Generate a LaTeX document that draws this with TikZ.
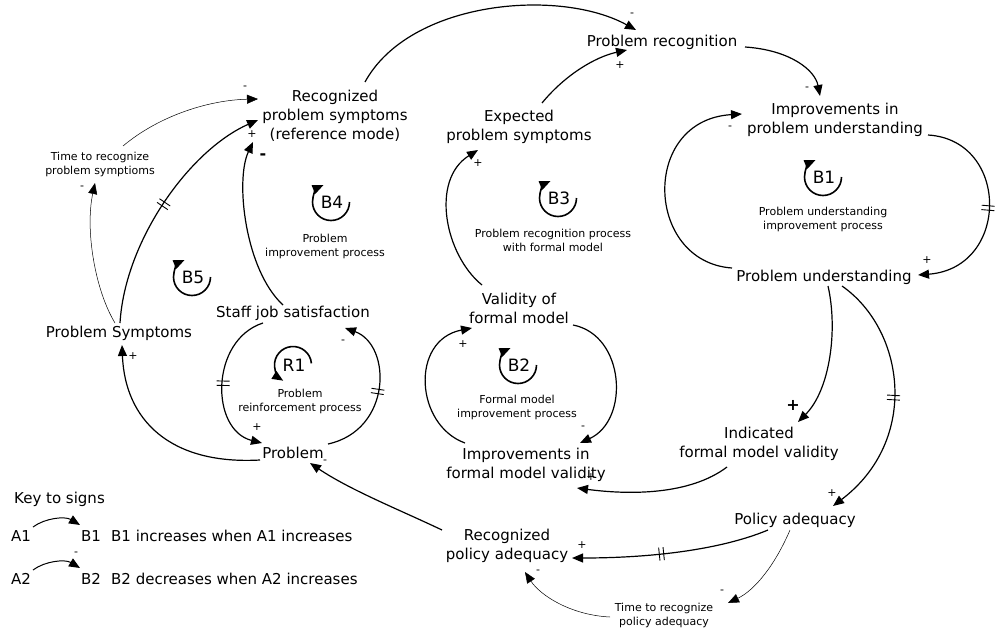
\documentclass[tikz,border=0pt]{standalone}
\usepackage{fontspec}
\setmainfont{DejaVu Sans}
\usetikzlibrary{arrows.meta,decorations.markings}
\begin{document}
\begin{tikzpicture}[x=1pt,y=-1pt,
  txt/.style={font=\fontsize{15}{19}\selectfont, align=center, inner sep=1pt},
  lbl/.style={font=\fontsize{17}{19}\selectfont, inner sep=0pt},
  sm/.style={font=\fontsize{11}{14}\selectfont, align=center, inner sep=1pt},
  sgn/.style={font=\fontsize{11}{11}\selectfont, inner sep=0pt},
  bsgn/.style={font=\fontsize{16}{16}\selectfont\bfseries, inner sep=0pt},
  link/.style={line width=1.2pt, -{Triangle[length=11pt,width=9pt]}},
  fine/.style={line width=0.5pt, -{Triangle[length=11pt,width=9pt]}},
  hash/.style={postaction={decorate, decoration={markings, mark=at position #1 with {\draw[line width=0.9pt,-] (-2.2pt,-6.5pt)--(-2.2pt,6.5pt) (2.2pt,-6.5pt)--(2.2pt,6.5pt);}}}},
  bloop/.pic={\draw[line width=1.6pt, -{Triangle[length=11pt,width=9pt]}] (0:18.5) arc[start angle=0, end angle=246, radius=18.5];},
  rloop/.pic={\draw[line width=1.6pt, -{Triangle[length=11pt,width=9pt]}] (-5:18.5) arc[start angle=-5, end angle=-238, radius=18.5];},
]
\useasboundingbox (0,0) rectangle (1000,629);

% variables
\node[txt] (pr) at (662,42) {Problem recognition};
\node[txt] (rps) at (335,116) {Recognized\\problem symptoms\\(reference mode)};
\node[txt] (eps) at (519,127) {Expected\\problem symptoms};
\node[txt] (ipu) at (835,120) {Improvements in\\problem understanding};
\node[txt] (pu) at (824,277) {Problem understanding};
\node[sm] (trp) at (100,164) {Time to recognize\\problem symptioms};
\node[txt] (ps) at (119,333) {Problem Symptoms};
\node[txt] (sjs) at (293,313) {Staff job satisfaction};
\node[txt] (p) at (293,453) {Problem};
\node[txt] (vfm) at (519,308) {Validity of\\formal model};
\node[txt] (ifm) at (526,465) {Improvements in\\formal model validity};
\node[txt] (ifv) at (759,444) {Indicated\\formal model validity};
\node[txt] (pa) at (795,520) {Policy adequacy};
\node[txt] (rpa) at (507,546) {Recognized\\policy adequacy};
\node[sm] (trpa) at (664,615) {Time to recognize\\policy adequacy};

% loop markers
\pic (lb4) at (331,202) {bloop};
\node[lbl] (b4) at (332,202) {B4};
\node[sm] (b4t) at (325,246) {Problem\\improvement process};
\pic (lb5) at (192,277) {bloop};
\node[lbl] (b5) at (193,277) {B5};
\pic (lb3) at (558,198) {bloop};
\node[lbl] (b3) at (559,198) {B3};
\node[sm] (b3t) at (553,240) {Problem recognition process\\with formal model};
\pic (lb1) at (823,177) {bloop};
\node[lbl] (b1) at (824,177) {B1};
\node[sm] (b1t) at (823,219) {Problem understanding\\improvement process};
\pic (lr1) at (293,365) {rloop};
\node[lbl] (r1) at (294,365) {R1};
\node[sm] (r1t) at (300,401) {Problem\\reinforcement process};
\pic (lb2) at (518,365) {bloop};
\node[lbl] (b2) at (519,365) {B2};
\node[sm] (b2t) at (517,407) {Formal model\\improvement process};

% connectors
\draw[link] ([shift={(30,-34)}]rps.center) .. controls (410,0) and (560,-12) .. ([shift={(-26,-12)}]pr.center);
\draw[link] ([shift={(23,-24)}]eps.center) .. controls (565,75) and (595,57) .. ([shift={(-35,8)}]pr.center);
\draw[link] ([shift={(83,5)}]pr.center) .. controls (790,50) and (815,70) .. ([shift={(-15,-24)}]ipu.center);
\draw[link] ([shift={(-92,-9)}]pu.center) .. controls (645,262) and (640,120) .. ([shift={(-93,-6)}]ipu.center);
\draw[link,hash=0.5] ([shift={(93,15)}]ipu.center) .. controls (1010,140) and (1010,268) .. ([shift={(94,-2)}]pu.center);
\draw[link] ([shift={(4,9)}]pu.center) .. controls (838,330) and (830,390) .. ([shift={(39,-22)}]ifv.center);
\draw[link,hash=0.5] ([shift={(18,9)}]pu.center) .. controls (905,330) and (920,440) .. ([shift={(38,-14)}]pa.center);
\draw[link] ([shift={(-32,23)}]ifv.center) .. controls (690,495) and (630,495) .. ([shift={(51,23)}]ifm.center);
\draw[link] ([shift={(54,17)}]vfm.center) .. controls (625,335) and (630,420) .. ([shift={(54,-22)}]ifm.center);
\draw[link] ([shift={(-61,-22)}]ifm.center) .. controls (415,425) and (410,340) .. ([shift={(-47,20)}]vfm.center);
\draw[link] ([shift={(-37,-23)}]vfm.center) .. controls (445,255) and (430,180) .. ([shift={(-41,23)}]eps.center);
\draw[link] ([shift={(-10,-8)}]sjs.center) .. controls (245,270) and (235,180) .. ([shift={(-82,26)}]rps.center);
\draw[link,hash=0.5] ([shift={(1,-10)}]ps.center) .. controls (125,240) and (190,150) .. ([shift={(-77,4)}]rps.center);
\draw[fine] ([shift={(-4,-10)}]ps.center) .. controls (95,290) and (85,230) .. ([shift={(-5,19)}]trp.center);
\draw[fine] ([shift={(23,-18)}]trp.center) .. controls (160,115) and (210,100) .. ([shift={(-77,-17)}]rps.center);
\draw[link] ([shift={(-33,7)}]p.center) .. controls (170,465) and (125,420) .. ([shift={(3,12)}]ps.center);
\draw[link,hash=0.5] ([shift={(-30,10)}]sjs.center) .. controls (210,340) and (210,430) .. ([shift={(-31,-10)}]p.center);
\draw[link,hash=0.5] ([shift={(35,-9)}]p.center) .. controls (392,430) and (392,345) .. ([shift={(52,15)}]sjs.center);
\draw[link] ([shift={(-65,-16)}]rpa.center) .. controls (400,510) and (350,490) .. ([shift={(17,10)}]p.center);
\draw[link,hash=0.55] ([shift={(-27,10)}]pa.center) .. controls (720,550) and (650,558) .. ([shift={(65,12)}]rpa.center);
\draw[fine] ([shift={(-5,10)}]pa.center) .. controls (775,565) and (755,590) .. ([shift={(64,-12)}]trpa.center);
\draw[fine] ([shift={(-54,2)}]trpa.center) .. controls (570,615) and (540,595) .. ([shift={(18,26)}]rpa.center);

% polarity signs
\node[sgn] (s1) at (632,15) {-};
\node[sgn] (s2) at (620,65) {+};
\node[sgn] (s3) at (807,89) {-};
\node[sgn] (s4) at (730,128) {-};
\node[sgn] (s5) at (927,260) {+};
\node[bsgn] (s6) at (793,405) {+};
\node[sgn] (s7) at (832,493) {+};
\node[sgn] (s8) at (591,477) {+};
\node[sgn] (s9) at (583,428) {-};
\node[sgn] (s10) at (463,344) {+};
\node[sgn] (s11) at (478,163) {+};
\node[bsgn] (s13) at (263,157) {-};
\node[sgn] (s14) at (252,134) {+};
\node[sgn] (s15) at (82,188) {-};
\node[sgn] (s16) at (245,88) {-};
\node[sgn] (s17) at (133,356) {+};
\node[sgn] (s18) at (257,427) {+};
\node[sgn] (s19) at (343,342) {-};
\node[sgn] (s20) at (325,462) {-};
\node[sgn] (s21) at (582,545) {+};
\node[sgn] (s22) at (722,592) {-};
\node[sgn] (s23) at (538,572) {-};

% legend
\node[txt, anchor=west] (key) at (13,499) {Key to signs};
\node[txt] (a1) at (21,536) {A1};
\node[txt] (lb1n) at (91,536) {B1};
\node[txt, anchor=west] (k1) at (110,536) {B1 increases when A1 increases};
\node[txt] (a2) at (21,579) {A2};
\node[txt] (lb2n) at (91,579) {B2};
\node[txt, anchor=west] (k2) at (110,579) {B2 decreases when A2 increases};
\node[sgn] (s24) at (76,554) {-};
\draw[link, line width=1pt] ([shift={(12,-9)}]a1.center) .. controls (45,518) and (65,516) .. ([shift={(-11,-11)}]lb1n.center);
\draw[link, line width=1pt] ([shift={(12,-9)}]a2.center) .. controls (45,561) and (65,559) .. ([shift={(-11,-11)}]lb2n.center);
\end{tikzpicture}
\end{document}
